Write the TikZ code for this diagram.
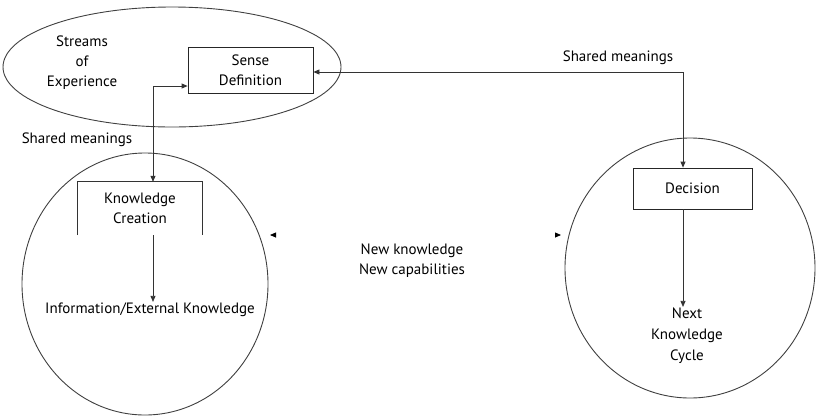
\documentclass[tikz,border=0pt]{standalone}
\usepackage{fontspec}
\setmainfont{PT Sans}
\usetikzlibrary{arrows.meta}
\begin{document}
\begin{tikzpicture}[x=1pt,y=-1pt,
  lbl/.style={font=\fontsize{15}{20}\selectfont, align=center, inner sep=1pt},
  boxn/.style={draw=black!85, line width=0.8pt, minimum width=124pt, minimum height=46pt, lbl},
  ring/.style={draw=black!75, line width=0.9pt},
  conn/.style={draw=black!80, line width=0.8pt},
  tip/.style={-{Triangle[length=6pt,width=5pt]}},
  tips/.style={{Triangle[length=6pt,width=5pt]}-{Triangle[length=6pt,width=5pt]}}
]
\useasboundingbox (0,0) rectangle (816,416);
% shapes
\draw[ring] (172,67) ellipse [x radius=169, y radius=60];
\draw[ring] (145,284) ellipse [x radius=123, y radius=131];
\draw[ring] (690,268) ellipse [x radius=125, y radius=130];
\coordinate (cl) at (270,235);
\coordinate (cr) at (561,235);
% nodes
\node[lbl] (streams) at (82,63) {Streams\\of\\Experience};
\node[boxn, minimum width=125pt] (sd) at (250.5,70) {Sense\\Definition};
\node[lbl, minimum width=124pt, minimum height=53pt] (kc) at (140,208.5) {Knowledge\\Creation};
\draw[conn] (kc.south west) -- (kc.north west) -- (kc.north east) -- (kc.south east);
\node[lbl] (info) at (150,310) {Information/External Knowledge};
\node[boxn, minimum width=119pt, minimum height=41pt] (dec) at (692.5,188.5) {Decision};
\node[lbl, font=\fontsize{15}{21}\selectfont] (next) at (687,336) {Next\\Knowledge\\Cycle};
\node[lbl] (sm1) at (77,140) {Shared meanings};
\node[lbl] (sm2) at (618,58) {Shared meanings};
\node[lbl] (newk) at (412,261) {New knowledge\\New capabilities};
% connectors
\coordinate (j1) at (153,86);
\coordinate (j2) at (683,72);
\draw[conn, tips] (kc.north -| j1) -- (j1) -- (sd.west |- j1);
\draw[conn, tips] (sd.east |- j2) -- (j2) -- (dec.north -| j2);
\draw[conn, tip] (kc.south -| j1) -- (info.north -| j1);
\draw[conn, tip] (dec.south -| j2) -- (next.north -| j2);
\draw[white, line width=0.8pt, {Triangle[length=6pt,width=5pt,black]}-{Triangle[length=6pt,width=5pt,black]}] (cl) -- (cr);
\end{tikzpicture}
\end{document}
